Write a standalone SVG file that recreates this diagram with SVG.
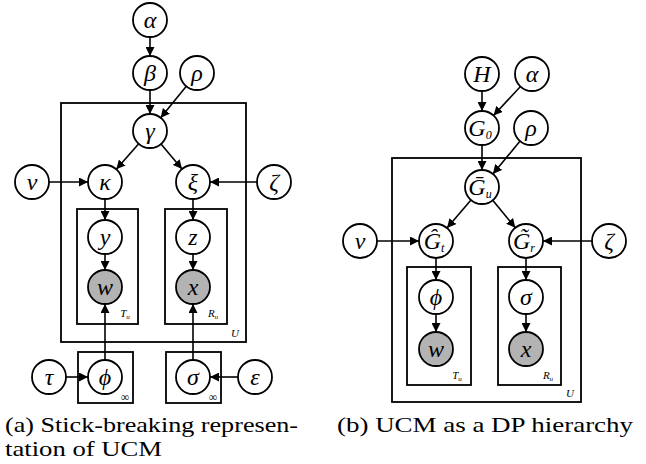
<svg xmlns="http://www.w3.org/2000/svg" width="646" height="464" viewBox="0 0 646 464">
<style>
.n{fill:#fff;stroke:#000;stroke-width:1.8}
.o{fill:#b3b3b3;stroke:#000;stroke-width:1.8}
.p{fill:none;stroke:#000;stroke-width:1.8}
.e{fill:none;stroke:#000;stroke-width:1.6;marker-end:url(#ah)}
text{font-family:'Liberation Serif',serif}
.t{font-style:italic;font-size:24px;text-anchor:middle;fill:#000}
.s{font-size:12px}
.pl{font-style:italic;font-size:11px;text-anchor:middle;fill:#000}
.cap{font-size:21px;fill:#000}
</style>
<defs>
<marker id="ah" viewBox="0 0 10 10" refX="10" refY="5" markerWidth="9" markerHeight="9" markerUnits="userSpaceOnUse" orient="auto">
<path d="M0,0 L10,5 L0,10 z" fill="#000"/>
</marker>
</defs>
<g id="plates">
<rect class="p" x="61" y="103" width="185" height="239"/>
<rect class="p" x="77" y="209" width="61" height="115"/>
<rect class="p" x="165" y="209" width="62" height="115"/>
<rect class="p" x="78" y="352" width="55" height="51"/>
<rect class="p" x="166" y="352" width="55" height="51"/>
<rect class="p" x="392" y="158" width="189" height="244"/>
<rect class="p" x="407" y="267" width="64" height="118"/>
<rect class="p" x="498" y="267" width="63" height="118"/>
<text class="pl" x="125" y="317">T<tspan font-size="7" dy="2">u</tspan></text>
<text class="pl" x="213" y="317">R<tspan font-size="7" dy="2">u</tspan></text>
<text class="pl" x="235" y="337" font-size="12">U</text>
<text x="125" y="401" font-family="DejaVu Sans" font-size="12" text-anchor="middle">∞</text>
<text x="213" y="401" font-family="DejaVu Sans" font-size="12" text-anchor="middle">∞</text>
<text class="pl" x="457" y="379">T<tspan font-size="7" dy="2">u</tspan></text>
<text class="pl" x="548" y="379">R<tspan font-size="7" dy="2">u</tspan></text>
<text class="pl" x="570" y="397" font-size="12">U</text>
</g>
<g id="connectors">
<line class="e" x1="150" y1="37" x2="150" y2="56"/>
<line class="e" x1="150" y1="90" x2="150" y2="114"/>
<line class="e" x1="186.3" y1="86.2" x2="160.7" y2="117.8"/>
<line class="e" x1="138.7" y1="143.8" x2="116.3" y2="169.3"/>
<line class="e" x1="161" y1="144" x2="182" y2="169"/>
<line class="e" x1="49" y1="182" x2="88" y2="182"/>
<line class="e" x1="257" y1="182" x2="210" y2="182"/>
<line class="e" x1="105" y1="199" x2="105" y2="220"/>
<line class="e" x1="193" y1="199" x2="193" y2="220"/>
<line class="e" x1="105" y1="254" x2="105" y2="270"/>
<line class="e" x1="193" y1="254" x2="193" y2="270"/>
<line class="e" x1="105" y1="360" x2="105" y2="304"/>
<line class="e" x1="193" y1="360" x2="193" y2="304"/>
<line class="e" x1="66" y1="377" x2="88" y2="377"/>
<line class="e" x1="238" y1="377" x2="210" y2="377"/>
<line class="e" x1="482" y1="91" x2="482" y2="111"/>
<line class="e" x1="520.5" y1="86.5" x2="493.5" y2="115.5"/>
<line class="e" x1="482" y1="145" x2="482" y2="170"/>
<line class="e" x1="520.1" y1="141.1" x2="492.9" y2="173.9"/>
<line class="e" x1="471" y1="200" x2="447" y2="228"/>
<line class="e" x1="492.7" y1="200.2" x2="515.3" y2="227.8"/>
<line class="e" x1="377" y1="241" x2="419" y2="241"/>
<line class="e" x1="592" y1="241" x2="543" y2="241"/>
<line class="e" x1="436" y1="258" x2="436" y2="280"/>
<line class="e" x1="526" y1="258" x2="526" y2="280"/>
<line class="e" x1="436" y1="314" x2="436" y2="332"/>
<line class="e" x1="526" y1="314" x2="526" y2="332"/>
</g>
<g id="a-alpha"><circle class="n" cx="150" cy="20" r="17"/><text class="t" x="150" y="28">α</text></g>
<g id="a-beta"><circle class="n" cx="150" cy="73" r="17"/><text class="t" x="150" y="81">β</text></g>
<g id="a-rho"><circle class="n" cx="197" cy="73" r="17"/><text class="t" x="197" y="81">ρ</text></g>
<g id="a-gamma"><circle class="n" cx="150" cy="131" r="17"/><text class="t" x="150" y="139">γ</text></g>
<g id="a-nu"><circle class="n" cx="32" cy="182" r="17"/><text class="t" x="32" y="190">ν</text></g>
<g id="a-kappa"><circle class="n" cx="105" cy="182" r="17"/><text class="t" x="105" y="190">κ</text></g>
<g id="a-xi"><circle class="n" cx="193" cy="182" r="17"/><text class="t" x="193" y="190">ξ</text></g>
<g id="a-zeta"><circle class="n" cx="274" cy="182" r="17"/><text class="t" x="274" y="190">ζ</text></g>
<g id="a-y"><circle class="n" cx="105" cy="237" r="17"/><text class="t" x="105" y="245">y</text></g>
<g id="a-z"><circle class="n" cx="193" cy="237" r="17"/><text class="t" x="193" y="245">z</text></g>
<g id="a-w"><circle class="o" cx="105" cy="287" r="17"/><text class="t" x="105" y="295">w</text></g>
<g id="a-x"><circle class="o" cx="193" cy="287" r="17"/><text class="t" x="193" y="295">x</text></g>
<g id="a-tau"><circle class="n" cx="49" cy="377" r="17"/><text class="t" x="49" y="385">τ</text></g>
<g id="a-phi"><circle class="n" cx="105" cy="377" r="17"/><text class="t" x="105" y="385">ϕ</text></g>
<g id="a-sigma"><circle class="n" cx="193" cy="377" r="17"/><text class="t" x="193" y="385">σ</text></g>
<g id="a-eps"><circle class="n" cx="255" cy="377" r="17"/><text class="t" x="255" y="385">ε</text></g>
<g id="b-H"><circle class="n" cx="482" cy="74" r="17"/><text class="t" x="482" y="82">H</text></g>
<g id="b-alpha"><circle class="n" cx="532" cy="74" r="17"/><text class="t" x="532" y="82">α</text></g>
<g id="b-G0"><circle class="n" cx="482" cy="128" r="17"/><text class="t" x="480" y="136">G<tspan class="s" dy="3">0</tspan></text></g>
<g id="b-rho"><circle class="n" cx="531" cy="128" r="17"/><text class="t" x="531" y="136">ρ</text></g>
<g id="b-Gu"><circle class="n" cx="482" cy="187" r="17"/><text class="t" x="480" y="195">Ḡ<tspan class="s" dy="3">u</tspan></text></g>
<g id="b-nu"><circle class="n" cx="360" cy="241" r="17"/><text class="t" x="360" y="249">ν</text></g>
<g id="b-Gt"><circle class="n" cx="436" cy="241" r="17"/><text class="t" x="434" y="249">Ĝ<tspan class="s" dy="3">t</tspan></text></g>
<g id="b-Gr"><circle class="n" cx="526" cy="241" r="17"/><text class="t" x="524" y="249">G̃<tspan class="s" dy="3">r</tspan></text></g>
<g id="b-zeta"><circle class="n" cx="609" cy="241" r="17"/><text class="t" x="609" y="249">ζ</text></g>
<g id="b-phi"><circle class="n" cx="436" cy="297" r="17"/><text class="t" x="436" y="305">ϕ</text></g>
<g id="b-sigma"><circle class="n" cx="526" cy="297" r="17"/><text class="t" x="526" y="305">σ</text></g>
<g id="b-w"><circle class="o" cx="436" cy="349" r="17"/><text class="t" x="436" y="357">w</text></g>
<g id="b-x"><circle class="o" cx="526" cy="349" r="17"/><text class="t" x="526" y="357">x</text></g>
<g id="captions">
<text class="cap" x="5" y="432" textLength="293" lengthAdjust="spacingAndGlyphs">(a) Stick-breaking represen-</text>
<text class="cap" x="5" y="456" textLength="157" lengthAdjust="spacingAndGlyphs">tation of UCM</text>
<text class="cap" x="337" y="432" textLength="296" lengthAdjust="spacingAndGlyphs">(b) UCM as a DP hierarchy</text>
</g>
</svg>
